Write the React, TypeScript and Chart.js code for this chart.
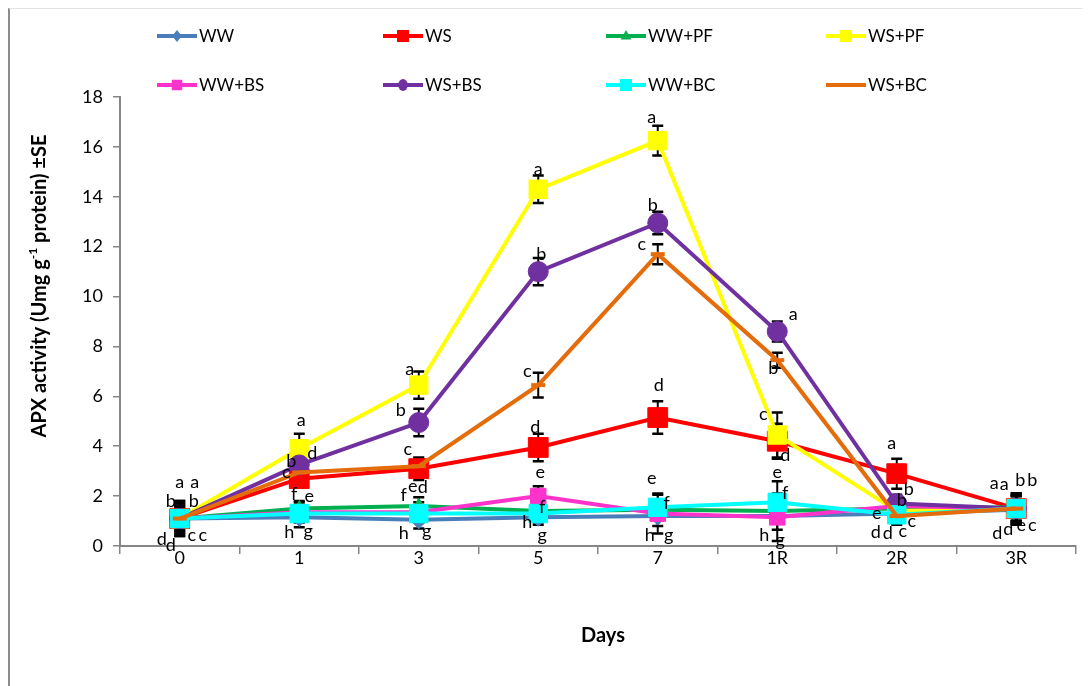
import { useEffect, useRef } from "react";
import { Chart, registerables } from "chart.js";

Chart.register(...registerables);

// Sampling days (drought days, then recovery days)
const DAYS = ["0", "1", "3", "5", "7", "1R", "2R", "3R"];

// APX activity means per treatment
const WW = [1.1, 1.15, 1.05, 1.15, 1.2, 1.2, 1.3, 1.45];
const WS = [1.1, 2.7, 3.1, 3.95, 5.15, 4.2, 2.9, 1.5];
const WW_PF = [1.1, 1.5, 1.6, 1.4, 1.45, 1.4, 1.5, 1.55];
const WS_PF = [1.1, 3.9, 6.45, 14.3, 16.25, 4.45, 1.4, 1.5];
const WW_BS = [1.1, 1.35, 1.35, 2.0, 1.3, 1.15, 1.6, 1.5];
const WS_BS = [1.1, 3.25, 4.95, 11.0, 12.95, 8.6, 1.7, 1.5];
const WW_BC = [1.1, 1.3, 1.3, 1.3, 1.55, 1.75, 1.25, 1.5];
const WS_BC = [1.1, 2.95, 3.2, 6.45, 11.7, 7.45, 1.2, 1.5];

// Standard errors
const SE_WW = [0.6, 0.4, 0.35, 0.3, 0.4, 0.55, 0.45, 0.6];
const SE_WS = [0.5, 0.35, 0.45, 0.55, 0.65, 0.7, 0.6, 0.5];
const SE_WW_PF = [0.6, 0.3, 0.35, 0.3, 0.35, 0.5, 0.3, 0.55];
const SE_WS_PF = [0.4, 0.6, 0.55, 0.55, 0.6, 0.9, 0.3, 0.5];
const SE_WW_BS = [0.7, 0.4, 0.4, 0.4, 0.8, 0.95, 0.4, 0.6];
const SE_WS_BS = [0.5, 0.35, 0.55, 0.55, 0.45, 0.4, 0.35, 0.5];
const SE_WW_BC = [0.7, 0.35, 0.3, 0.35, 0.5, 0.85, 0.3, 0.6];
const SE_WS_BC = [0.4, 0.3, 0.3, 0.5, 0.4, 0.3, 0.3, 0.5];

// Significance letters
const LET_WW = ["d", "h", "h", "h", "h", "h", "e", "d"];
const LET_WS = ["b", "c", "e", "d", "d", "d", "a", "a"];
const LET_WW_PF = ["d", "f", "d", "g", "g", "f", "d", "a"];
const LET_WS_PF = ["a", "a", "a", "a", "a", "c", "d", "b"];
const LET_WW_BS = ["c", "g", "g", "e", "e", "g", "b", "d"];
const LET_WS_BS = ["a", "b", "b", "b", "b", "a", "b", "b"];
const LET_WW_BC = ["c", "e", "f", "f", "f", "e", "c", "e"];
const LET_WS_BC = ["b", "d", "c", "c", "c", "b", "c", "c"];

// Letter placement, pixel offsets from each point
const OFF_WW = [[-18, 21], [-10, 15], [-15, 13], [-11, 5], [-8, 19], [-13, 19], [-20, 0], [-19, 23]];
const OFF_WS = [[-9, -17], [-13, -6], [-6, 18], [-3, -20], [1, -32], [8, 14], [-5, -30], [-22, -25]];
const OFF_WW_PF = [[-9, 27], [-5, -14], [4, -19], [4, 24], [11, 25], [8, -18], [-21, 24], [-12, -23]];
const OFF_WS_PF = [[0, -36], [2, -29], [-9, -16], [0, -20], [-6, -23], [-14, -21], [-9, 22], [16, -28]];
const OFF_WW_BS = [[12, 17], [9, 19], [8, 19], [2, -24], [-6, -35], [3, 23], [5, -6], [-8, 21]];
const OFF_WS_BS = [[15, -36], [-8, -4], [-18, -12], [3, -17], [-5, -18], [16, -17], [12, -14], [4, -28]];
const OFF_WW_BC = [[23, 17], [10, -17], [-15, -18], [4, -6], [9, -4], [0, -30], [6, 16], [5, 17]];
const OFF_WS_BC = [[14, -17], [13, -19], [-11, -17], [-11, -14], [-16, -10], [-4, 8], [15, 5], [16, 17]];

const FONT = "Lato, 'Open Sans', sans-serif";

type Series = {
  label: string;
  data: number[];
  se: number[];
  letters: string[];
  offsets: number[][];
  color: string;
  pointStyle: string;
  radius: number;
  legendRadius: number;
};

const SERIES: Series[] = [
  { label: "WW", data: WW, se: SE_WW, letters: LET_WW, offsets: OFF_WW, color: "#4a7ebb", pointStyle: "rectRot", radius: 9, legendRadius: 6 },
  { label: "WS", data: WS, se: SE_WS, letters: LET_WS, offsets: OFF_WS, color: "#ff0000", pointStyle: "rect", radius: 14, legendRadius: 8 },
  { label: "WW+PF", data: WW_PF, se: SE_WW_PF, letters: LET_WW_PF, offsets: OFF_WW_PF, color: "#00b050", pointStyle: "triangle", radius: 8, legendRadius: 6 },
  { label: "WS+PF", data: WS_PF, se: SE_WS_PF, letters: LET_WS_PF, offsets: OFF_WS_PF, color: "#ffff00", pointStyle: "rect", radius: 13, legendRadius: 8 },
  { label: "WW+BS", data: WW_BS, se: SE_WW_BS, letters: LET_WW_BS, offsets: OFF_WW_BS, color: "#ff33cc", pointStyle: "rect", radius: 11, legendRadius: 7 },
  { label: "WS+BS", data: WS_BS, se: SE_WS_BS, letters: LET_WS_BS, offsets: OFF_WS_BS, color: "#7030a0", pointStyle: "circle", radius: 10, legendRadius: 6 },
  { label: "WW+BC", data: WW_BC, se: SE_WW_BC, letters: LET_WW_BC, offsets: OFF_WW_BC, color: "#00ffff", pointStyle: "rect", radius: 13, legendRadius: 8 },
  { label: "WS+BC", data: WS_BC, se: SE_WS_BC, letters: LET_WS_BC, offsets: OFF_WS_BC, color: "#e46c0a", pointStyle: "line", radius: 7, legendRadius: 4 },
];

// Legend grid: 4 columns x 2 rows
const LEGEND_COLS = [147, 373, 596, 816];
const LEGEND_ROWS = [27, 76];
const LEGEND_LINE = 40;

const errorBarPlugin = {
  id: "errorBars",
  beforeDatasetsDraw(chart: any) {
    const { ctx } = chart;
    const y = chart.scales.y;
    ctx.save();
    ctx.strokeStyle = "#000";
    SERIES.forEach((s, di) => {
      const meta = chart.getDatasetMeta(di);
      meta.data.forEach((pt: any, i: number) => {
        const top = y.getPixelForValue(s.data[i] + s.se[i]);
        const bot = y.getPixelForValue(s.data[i] - s.se[i]);
        const x = pt.x;
        ctx.lineWidth = 2;
        ctx.beginPath();
        ctx.moveTo(x, top);
        ctx.lineTo(x, bot);
        ctx.stroke();
        ctx.lineWidth = 2.5;
        ctx.beginPath();
        ctx.moveTo(x - 5.5, top);
        ctx.lineTo(x + 5.5, top);
        ctx.moveTo(x - 5.5, bot);
        ctx.lineTo(x + 5.5, bot);
        ctx.stroke();
      });
    });
    ctx.restore();
  },
};

const letterPlugin = {
  id: "letters",
  afterDatasetsDraw(chart: any) {
    const { ctx } = chart;
    ctx.save();
    ctx.fillStyle = "#000";
    ctx.font = `18px ${FONT}`;
    ctx.textAlign = "center";
    ctx.textBaseline = "middle";
    SERIES.forEach((s, di) => {
      const meta = chart.getDatasetMeta(di);
      meta.data.forEach((pt: any, i: number) => {
        const [dx, dy] = s.offsets[i];
        ctx.fillText(s.letters[i], pt.x + dx, pt.y + dy);
      });
    });
    ctx.restore();
  },
};

function drawMarker(ctx: CanvasRenderingContext2D, s: Series, x: number, y: number) {
  ctx.save();
  ctx.fillStyle = s.color;
  ctx.strokeStyle = s.color;
  const r = s.legendRadius;
  ctx.beginPath();
  switch (s.pointStyle) {
    case "rectRot":
      ctx.moveTo(x, y - r);
      ctx.lineTo(x + r * 0.8, y);
      ctx.lineTo(x, y + r);
      ctx.lineTo(x - r * 0.8, y);
      ctx.closePath();
      ctx.fill();
      break;
    case "rect":
      ctx.rect(x - r * 0.75, y - r * 0.75, r * 1.5, r * 1.5);
      ctx.fill();
      break;
    case "triangle":
      ctx.moveTo(x, y - r);
      ctx.lineTo(x + r * 0.9, y + r * 0.6);
      ctx.lineTo(x - r * 0.9, y + r * 0.6);
      ctx.closePath();
      ctx.fill();
      break;
    case "circle":
      ctx.ellipse(x, y, r * 0.8, r, 0, 0, Math.PI * 2);
      ctx.fill();
      break;
    default:
      ctx.lineWidth = 4;
      ctx.moveTo(x - r, y);
      ctx.lineTo(x + r, y);
      ctx.stroke();
  }
  ctx.restore();
}

const legendPlugin = {
  id: "customLegend",
  afterDraw(chart: any) {
    const { ctx } = chart;
    ctx.save();
    ctx.font = `17px ${FONT}`;
    ctx.textBaseline = "middle";
    ctx.textAlign = "left";
    SERIES.forEach((s, i) => {
      const x = LEGEND_COLS[i % 4];
      const y = LEGEND_ROWS[Math.floor(i / 4)];
      ctx.strokeStyle = s.color;
      ctx.lineWidth = 4;
      ctx.beginPath();
      ctx.moveTo(x, y);
      ctx.lineTo(x + LEGEND_LINE, y);
      ctx.stroke();
      drawMarker(ctx, s, x + LEGEND_LINE / 2, y);
      ctx.fillStyle = "#000";
      ctx.fillText(s.label, x + LEGEND_LINE + 2, y + 1);
    });
    ctx.restore();
  },
};

const titlePlugin = {
  id: "axisTitles",
  afterDraw(chart: any) {
    const { ctx } = chart;
    ctx.save();
    ctx.fillStyle = "#000";
    // x-axis title
    ctx.font = `bold 20px ${FONT}`;
    ctx.textAlign = "center";
    ctx.textBaseline = "middle";
    ctx.fillText("Days", 593, 627);
    // y-axis title with superscript
    const main = `bold 20px ${FONT}`;
    const sup = `bold 12px ${FONT}`;
    const p1 = "APX activity (Umg g";
    const p2 = "-1";
    const p3 = " protein) \u00b1SE";
    ctx.font = main;
    const w1 = ctx.measureText(p1).width;
    const w3 = ctx.measureText(p3).width;
    ctx.font = sup;
    const w2 = ctx.measureText(p2).width;
    const total = w1 + w2 + w3;
    ctx.translate(29, 277);
    ctx.rotate(-Math.PI / 2);
    ctx.textAlign = "left";
    ctx.textBaseline = "alphabetic";
    let x = -total / 2;
    ctx.font = main;
    ctx.fillText(p1, x, 7);
    x += w1;
    ctx.font = sup;
    ctx.fillText(p2, x, -2);
    x += w2;
    ctx.font = main;
    ctx.fillText(p3, x, 7);
    ctx.restore();
  },
};

export default function App() {
  const ref = useRef<HTMLCanvasElement | null>(null);

  useEffect(() => {
    if (!ref.current) return;
    const chart = new Chart(ref.current, {
      type: "line",
      data: {
        labels: DAYS,
        datasets: SERIES.map((s, i) => ({
          label: s.label,
          data: s.data,
          borderColor: s.color,
          backgroundColor: s.color,
          borderWidth: 4,
          pointStyle: s.pointStyle as any,
          pointRadius: s.radius,
          pointBorderWidth: s.pointStyle === "line" ? 4 : 1,
          pointBackgroundColor: s.color,
          pointBorderColor: s.color,
          tension: 0,
          order: SERIES.length - 1 - i,
        })),
      },
      options: {
        responsive: false,
        animation: false,
        devicePixelRatio: 1,
        layout: { padding: { top: 88, right: 4, left: 0, bottom: 0 } },
        plugins: {
          legend: { display: false },
          tooltip: { enabled: false },
        },
        scales: {
          x: {
            offset: true,
            grid: { offset: true, drawOnChartArea: false, tickLength: 8, color: "#868686", lineWidth: 1.5 },
            border: { color: "#868686", width: 2 },
            ticks: { color: "#000", font: { family: FONT, size: 18 }, padding: -7 },
            afterFit: (s: any) => {
              s.height = 140;
            },
          },
          y: {
            min: 0,
            max: 18,
            ticks: { stepSize: 2, color: "#000", font: { family: FONT, size: 18 }, padding: 10 },
            grid: { drawOnChartArea: false, tickLength: 7, color: "#868686", lineWidth: 1.5 },
            border: { color: "#868686", width: 2 },
            afterFit: (s: any) => {
              s.width = 110;
            },
          },
        },
      },
      plugins: [errorBarPlugin, letterPlugin, legendPlugin, titlePlugin],
    });
    return () => chart.destroy();
  }, []);

  return (
    <div
      style={{
        width: 1081,
        height: 677,
        borderLeft: "2px solid #8c8c8c",
        borderTop: "1px solid #e2e2e2",
        background: "#fff",
      }}
    >
      <canvas ref={ref} width={1081} height={677} style={{ display: "block" }} />
    </div>
  );
}
